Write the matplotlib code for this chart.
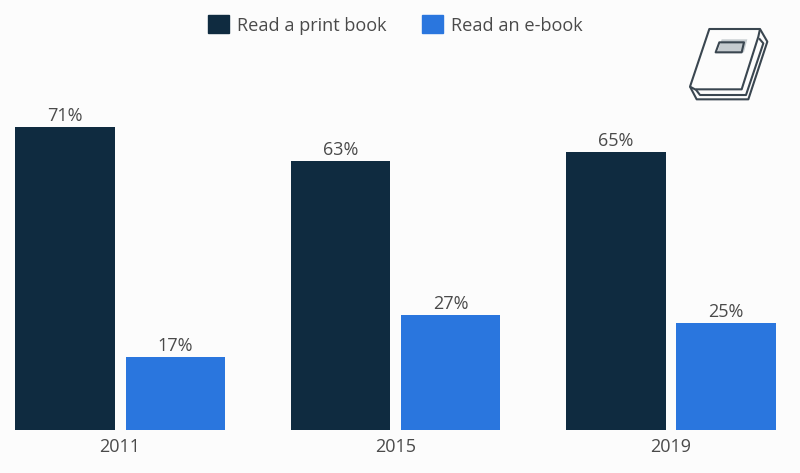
import matplotlib
matplotlib.use("Agg")
import matplotlib.pyplot as plt
import numpy as np
from matplotlib.patches import Patch, Polygon

plt.rcParams["font.family"] = ["Open Sans", "DejaVu Sans"]

years = ["2011", "2015", "2019"]
print_book = [71, 63, 65]
e_book = [17, 27, 25]

COLOR_PRINT = "#0F2B40"
COLOR_EBOOK = "#2A76DE"
COLOR_TEXT = "#4A4A4A"
BG = "#FCFCFC"

fig = plt.figure(figsize=(8, 4.73), dpi=100, facecolor=BG)
ax = fig.add_axes([0, 0, 1, 1], facecolor="none")

# 275.5 px between groups, 4.27 px per percent, baseline at y=430
x = np.arange(len(years))
width = 99.5 / 275.5
offset = 55.25 / 275.5
bars1 = ax.bar(x - offset, print_book, width, color=COLOR_PRINT, label="Read a print book")
bars2 = ax.bar(x + offset, e_book, width, color=COLOR_EBOOK, label="Read an e-book")

for bars in (bars1, bars2):
    for bar in bars:
        ax.annotate(f"{bar.get_height():.0f}%",
                    (bar.get_x() + bar.get_width() / 2, bar.get_height()),
                    xytext=(0, 1.5), textcoords="offset points",
                    ha="center", va="bottom", fontsize=13, color=COLOR_TEXT)

ax.set_xlim(-120 / 275.5, 680 / 275.5)
ax.set_ylim(-43 / 4.27, 430 / 4.27)
ax.set_xticks(x, years)
ax.tick_params(axis="x", direction="in", pad=-25, length=0, labelsize=13, labelcolor=COLOR_TEXT)
ax.set_yticks([])
for side in ax.spines:
    ax.spines[side].set_visible(False)

fig.legend(handles=[Patch(color=COLOR_PRINT, label="Read a print book"),
                    Patch(color=COLOR_EBOOK, label="Read an e-book")],
           loc="center", bbox_to_anchor=(395.5 / 800, 1 - 25 / 473), ncol=2, frameon=False,
           fontsize=13.1, labelcolor=COLOR_TEXT, handlelength=1.15, handleheight=1.15,
           handletextpad=0.45, columnspacing=1.95)

# book icon, drawn in pixel coordinates
icon = fig.add_axes([0, 0, 1, 1], facecolor="none")
icon.set_xlim(0, 800)
icon.set_ylim(473, 0)
icon.axis("off")


def px(points):
    return [(660 + a / 3, 10 + b / 3) for a, b in points]


icon.add_patch(Polygon(px([(185, 88), (262, 88), (252, 127), (172, 127)]),
                       closed=True, color="#C5CBCF", lw=0))
line_style = dict(fill=False, edgecolor="#3A4650", lw=1.5, joinstyle="round")
icon.add_patch(Polygon(px([(148, 57), (300, 57), (322, 95), (265, 268), (110, 268), (90, 230)]),
                       closed=True, **line_style))
icon.add_patch(Polygon(px([(300, 57), (295, 80), (245, 238), (105, 238), (90, 230)]),
                       closed=False, **line_style))
icon.add_patch(Polygon(px([(297, 85), (310, 100), (258, 255), (120, 255), (107, 238)]),
                       closed=False, **line_style))
icon.add_patch(Polygon(px([(178, 97), (252, 97), (245, 127), (167, 127)]),
                       closed=True, **line_style))

fig.savefig("out.png", dpi=100, facecolor=fig.get_facecolor())
